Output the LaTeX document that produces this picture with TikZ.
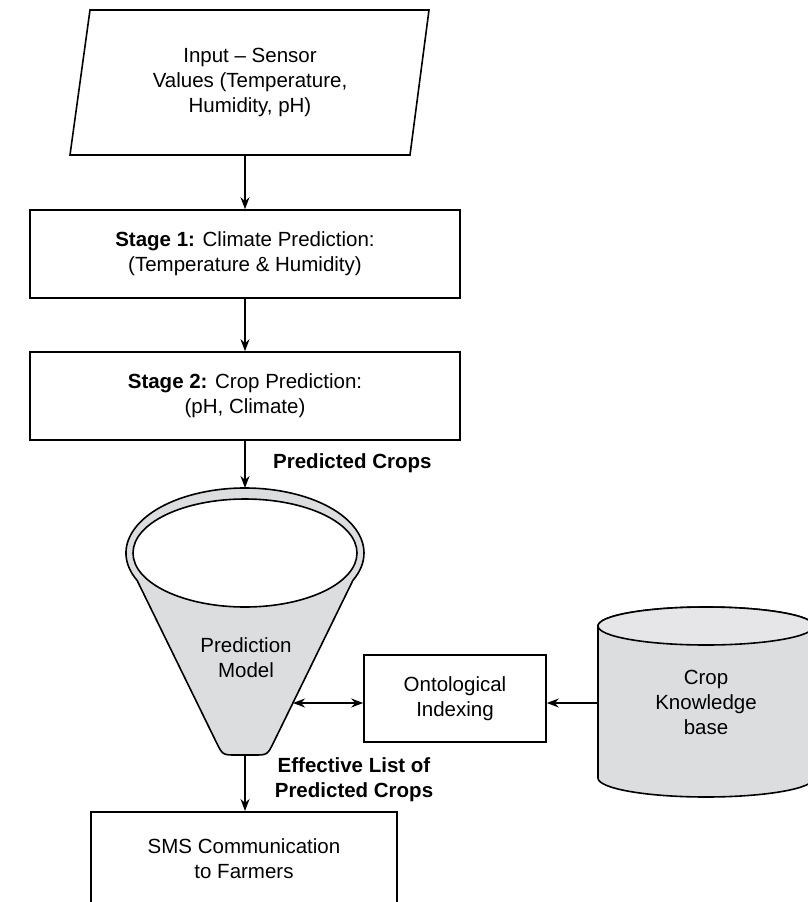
\documentclass[tikz,border=0pt]{standalone}
\usepackage{fontspec}
\setmainfont{Liberation Sans}
\usetikzlibrary{arrows.meta,calc}
\definecolor{fgray}{HTML}{DCDDDF}
\definecolor{tgray}{HTML}{E6E6E8}
\begin{document}
\begin{tikzpicture}[x=1pt,y=-1pt,
  every node/.style={font=\fontsize{20.5}{25}\selectfont, align=center, inner sep=0pt},
  line/.style={line width=1.6pt},
  boxnode/.style={draw, line width=1.6pt, fill=white, inner sep=0pt},
  arr/.style={line width=1.6pt, -{Stealth[length=12pt,width=9pt]}},
  darr/.style={line width=1.6pt, {Stealth[length=12pt,width=9pt]}-{Stealth[length=12pt,width=9pt]}},
  lbl/.style={font=\fontsize{20.5}{25}\selectfont\bfseries}]
\useasboundingbox (0,0) rectangle (807,902);

% input parallelogram
\draw[line, fill=white] (90,10) -- (429,10) -- (410,155) -- (70,155) -- cycle;
\node (inp) at (250,82) {Input – Sensor\\Values (Temperature,\\Humidity, pH)};
\coordinate (inpb) at (245,155);

% stages
\node[boxnode, minimum width=430pt, minimum height=88pt] (s1) at (245,254)
  {\textbf{Stage 1:} Climate Prediction:\\(Temperature \& Humidity)};
\node[boxnode, minimum width=430pt, minimum height=88pt] (s2) at (245,396)
  {\textbf{Stage 2:} Crop Prediction:\\(pH, Climate)};

% funnel
\draw[line, fill=fgray] ($(245,553)+(155:119 and 65)$) arc[start angle=155, end angle=385, x radius=119, y radius=65]
  -- (273.6,742.4) .. controls (267.4,755) .. (253.4,755) -- (236.6,755)
  .. controls (222.6,755) .. (216.4,742.4) -- cycle;
\draw[line, fill=white] (245,553) ellipse[x radius=112, y radius=54];
\node (pm) at (246,657.5) {Prediction\\Model};
\coordinate (ftop) at (245,488);
\coordinate (fbot) at (245,755);
\coordinate (fr) at (293,703);

% ontological indexing
\node[boxnode, minimum width=182pt, minimum height=87pt] (oi) at (455,698.5) {Ontological\\Indexing};

% cylinder
\draw[line, fill=fgray] (598,626) -- (598,778) arc[start angle=180, end angle=0, x radius=108, y radius=19]
  -- (814,626) arc[start angle=0, end angle=-180, x radius=108, y radius=19] -- cycle;
\draw[line, fill=tgray] (706,626) ellipse[x radius=108, y radius=19];
\node (ckb) at (706,702) {Crop\\Knowledge\\base};
\coordinate (cl) at (598,703);

% SMS
\node[boxnode, minimum width=306pt, minimum height=93pt, anchor=north] (sms) at (244,811)
  {SMS Communication\\to Farmers};

% connectors
\draw[arr] (inpb) -- (s1.north);
\draw[arr] (s1.south) -- (s2.north);
\draw[arr] (s2.south) -- (ftop);
\draw[darr] (fr) -- (fr -| oi.west);
\draw[arr] (cl) -- (cl -| oi.east);
\draw[arr] (fbot) -- (fbot |- sms.north);

% labels
\node[lbl, anchor=west] (lpc) at (273,463) {Predicted Crops};
\node[lbl] (lel) at (354,779.5) {Effective List of\\Predicted Crops};
\end{tikzpicture}
\end{document}
